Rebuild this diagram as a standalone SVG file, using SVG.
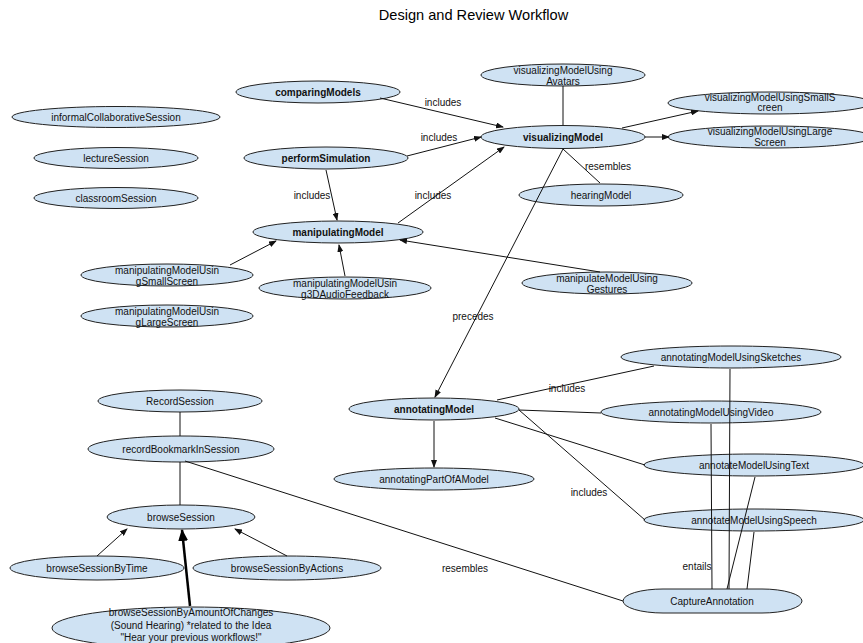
<svg xmlns="http://www.w3.org/2000/svg" width="863" height="643" viewBox="0 0 863 643">
<style>
.n{fill:#cfe2f3;stroke:#222;stroke-width:1}
.t{font-family:"Liberation Sans",Arial,sans-serif;font-size:10px;fill:#111;text-anchor:middle}
.b{font-weight:bold}
.e{stroke:#111;stroke-width:1;fill:none}
.a{marker-end:url(#ah)}
.lbl{font-family:"Liberation Sans",Arial,sans-serif;font-size:10px;fill:#111;text-anchor:middle}
</style>
<defs>
<marker id="ah" markerWidth="8" markerHeight="6" refX="7" refY="3" orient="auto" markerUnits="userSpaceOnUse">
<path d="M0,0 L8,3 L0,6 z" fill="#111"/>
</marker>
<marker id="ahb" markerWidth="12" markerHeight="10" refX="11" refY="5" orient="auto" markerUnits="userSpaceOnUse">
<path d="M0,0 L12,5 L0,10 z" fill="#000"/>
</marker>
</defs>
<rect width="863" height="643" fill="#fff"/>
<text x="473.5" y="20" style="font-family:'Liberation Sans',Arial,sans-serif;font-size:14.6px;fill:#000;text-anchor:middle">Design and Review Workflow</text>

<g id="comparingModels"><ellipse class="n" cx="318" cy="92" rx="82" ry="11"/><text class="t b" x="318" y="95.5">comparingModels</text></g>
<g id="informalCollaborativeSession"><ellipse class="n" cx="116" cy="117" rx="104" ry="10.5"/><text class="t" x="116" y="120.5">informalCollaborativeSession</text></g>
<g id="lectureSession"><ellipse class="n" cx="116" cy="158" rx="82" ry="10.5"/><text class="t" x="116" y="161.5">lectureSession</text></g>
<g id="classroomSession"><ellipse class="n" cx="116" cy="198" rx="82" ry="10.5"/><text class="t" x="116" y="201.5">classroomSession</text></g>
<g id="performSimulation"><ellipse class="n" cx="326" cy="158" rx="82" ry="11"/><text class="t b" x="326" y="161.5">performSimulation</text></g>
<g id="manipulatingModel"><ellipse class="n" cx="338" cy="232" rx="85" ry="11"/><text class="t b" x="338" y="235.5">manipulatingModel</text></g>
<g id="visualizingModel"><ellipse class="n" cx="563" cy="137" rx="82" ry="11.5"/><text class="t b" x="563" y="140.5">visualizingModel</text></g>
<g id="visualizingModelUsingAvatars"><ellipse class="n" cx="563" cy="75" rx="82" ry="11"/><text class="t" x="563" y="73.5">visualizingModelUsing</text><text class="t" x="563" y="84.5">Avatars</text></g>
<g id="visualizingModelUsingSmallScreen"><ellipse class="n" cx="770" cy="103" rx="102" ry="11"/><text class="t" x="770" y="100.5">visualizingModelUsingSmallS</text><text class="t" x="770" y="111">creen</text></g>
<g id="visualizingModelUsingLargeScreen"><ellipse class="n" cx="770" cy="137" rx="102" ry="11"/><text class="t" x="770" y="135">visualizingModelUsingLarge</text><text class="t" x="770" y="146">Screen</text></g>
<g id="hearingModel"><ellipse class="n" cx="601" cy="195" rx="82" ry="11"/><text class="t" x="601" y="198.5">hearingModel</text></g>
<g id="manipulatingModelUsingSmallScreen"><ellipse class="n" cx="167" cy="275" rx="86" ry="11"/><text class="t" x="167" y="273.5">manipulatingModelUsin</text><text class="t" x="167" y="285">gSmallScreen</text></g>
<g id="manipulatingModelUsingLargeScreen"><ellipse class="n" cx="167" cy="316" rx="86" ry="11"/><text class="t" x="167" y="314.5">manipulatingModelUsin</text><text class="t" x="167" y="325.5">gLargeScreen</text></g>
<g id="manipulatingModelUsing3DAudioFeedback"><ellipse class="n" cx="345" cy="288" rx="86" ry="11"/><text class="t" x="345" y="286.5">manipulatingModelUsin</text><text class="t" x="345" y="297.5">g3DAudioFeedback</text></g>
<g id="manipulateModelUsingGestures"><ellipse class="n" cx="607" cy="283" rx="85" ry="11"/><text class="t" x="607" y="281.5">manipulateModelUsing</text><text class="t" x="607" y="292.5">Gestures</text></g>
<g id="annotatingModel"><ellipse class="n" cx="434" cy="409" rx="85" ry="11"/><text class="t b" x="434" y="412.5">annotatingModel</text></g>
<g id="annotatingPartOfAModel"><ellipse class="n" cx="434" cy="479" rx="100" ry="11"/><text class="t" x="434" y="482.5">annotatingPartOfAModel</text></g>
<g id="annotatingModelUsingSketches"><ellipse class="n" cx="731" cy="357" rx="110" ry="11"/><text class="t" x="731" y="360.5">annotatingModelUsingSketches</text></g>
<g id="annotatingModelUsingVideo"><ellipse class="n" cx="711" cy="412" rx="110" ry="11"/><text class="t" x="711" y="415.5">annotatingModelUsingVideo</text></g>
<g id="annotateModelUsingText"><ellipse class="n" cx="754" cy="465" rx="110" ry="11"/><text class="t" x="754" y="468.5">annotateModelUsingText</text></g>
<g id="annotateModelUsingSpeech"><ellipse class="n" cx="754" cy="520" rx="110" ry="11"/><text class="t" x="754" y="523.5">annotateModelUsingSpeech</text></g>
<g id="CaptureAnnotation"><rect class="n" x="623" y="589" width="179" height="24" rx="40" ry="12"/><text class="t" x="712" y="604.5">CaptureAnnotation</text></g>
<g id="RecordSession"><ellipse class="n" cx="180" cy="401" rx="82" ry="11"/><text class="t" x="180" y="404.5">RecordSession</text></g>
<g id="recordBookmarkInSession"><ellipse class="n" cx="181" cy="449" rx="93" ry="13"/><text class="t" x="181" y="452.5">recordBookmarkInSession</text></g>
<g id="browseSession"><ellipse class="n" cx="181" cy="517" rx="74" ry="12"/><text class="t" x="181" y="520.5">browseSession</text></g>
<g id="browseSessionByTime"><ellipse class="n" cx="97" cy="568" rx="87" ry="12"/><text class="t" x="97" y="571.5">browseSessionByTime</text></g>
<g id="browseSessionByActions"><ellipse class="n" cx="287" cy="568" rx="94" ry="12"/><text class="t" x="287" y="571.5">browseSessionByActions</text></g>
<g id="browseSessionByAmountOfChanges"><ellipse class="n" cx="191" cy="628" rx="139" ry="21"/><text class="t" x="191" y="615.5">browseSessionByAmountOfChanges</text><text class="t" x="191" y="628.5">(Sound Hearing) *related to the Idea</text><text class="t" x="191" y="640.5">"Hear your previous workflows!"</text></g>

<g id="connectors">
<path class="e a" d="M380,98 L503,127"/>
<path class="e a" d="M407,156 L481,137"/>
<path class="e a" d="M326,170 L337,220"/>
<path class="e a" d="M398,223 L504,147"/>
<path class="e" d="M563,86 L563,125"/>
<path class="e a" d="M622,128 L698,111"/>
<path class="e a" d="M645,137 L669,137"/>
<path class="e" d="M563,149 L600,183"/>
<path class="e a" d="M563,149 L435,397"/>
<path class="e a" d="M230,265 L276,241"/>
<path class="e a" d="M345,276 L339,245"/>
<path class="e a" d="M600,272 L400,240"/>
<path class="e a" d="M434,421 L434,467"/>
<path class="e" d="M497,400 L654,366"/>
<path class="e" d="M519,410 L601,413"/>
<path class="e" d="M495,418 L645,465"/>
<path class="e" d="M519,410 L645,520"/>
<path class="e" d="M730,369 L729,589"/>
<path class="e" d="M711,424 L712,589"/>
<path class="e" d="M755,477 L727,589"/>
<path class="e" d="M754,532 L747,589"/>
<path class="e" d="M185,461 L623,601"/>
<path class="e" d="M180,412 L180,436"/>
<path class="e" d="M180,462 L180,505"/>
<path class="e a" d="M97,556 L127,529"/>
<path class="e a" d="M287,556 L235,529"/>
<path d="M190,606 L182,530" stroke="#000" stroke-width="2.5" fill="none" marker-end="url(#ahb)"/>
<text class="lbl" x="443" y="105.5">includes</text>
<text class="lbl" x="439" y="140.5">includes</text>
<text class="lbl" x="312" y="198.5">includes</text>
<text class="lbl" x="433" y="198.5">includes</text>
<text class="lbl" x="608" y="170">resembles</text>
<text class="lbl" x="473" y="319.5">precedes</text>
<text class="lbl" x="567" y="391.5">includes</text>
<text class="lbl" x="589" y="495.5">includes</text>
<text class="lbl" x="697" y="569.5">entails</text>
<text class="lbl" x="465" y="571.5">resembles</text>
</g>
</svg>
